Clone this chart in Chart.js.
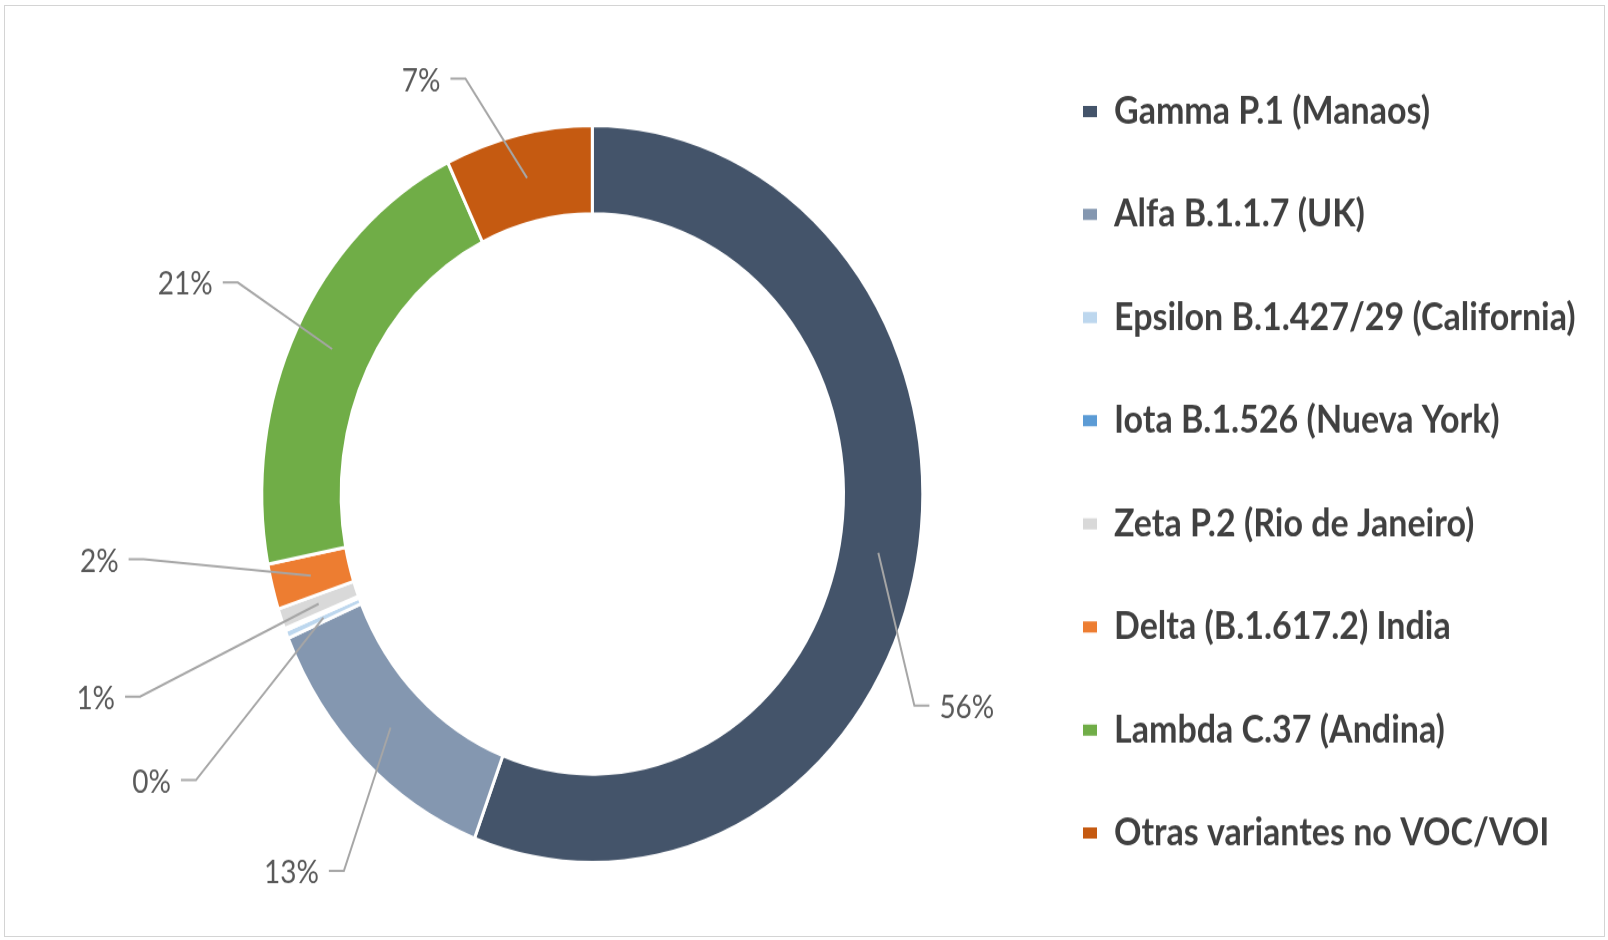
<!DOCTYPE html>
<html><head><meta charset="utf-8">
<script src="https://cdn.jsdelivr.net/npm/chart.js@4.4.1/dist/chart.umd.min.js"></script>
<style>
html,body{margin:0;padding:0;background:#fff;width:1608px;height:940px;overflow:hidden;}
#frame{position:absolute;left:4px;top:5px;width:1601px;height:932px;border:1px solid #d4d4d4;box-sizing:border-box;}
#wrap{position:absolute;left:0;top:0;width:1608px;height:843px;transform:scaleY(1.11507);transform-origin:0 0;}
</style></head><body>
<div id="frame"></div>
<div id="wrap"><canvas id="c"></canvas></div>
<script>
// ---- data ----
const categories = [
  'Gamma P.1 (Manaos)',
  'Alfa B.1.1.7 (UK)',
  'Epsilon B.1.427/29 (California)',
  'Iota B.1.526 (Nueva York)',
  'Zeta P.2 (Rio de Janeiro)',
  'Delta (B.1.617.2) India',
  'Lambda C.37 (Andina)',
  'Otras variantes no VOC/VOI'
];
const shares = [55.8, 12.8, 0.35, 0.1, 0.9, 2.0, 20.85, 7.2];

// ---- layout helpers ----
const legendFontPx = 34, itemStep = 92.46, boxW = 14;
const legendPad = itemStep - legendFontPx;
const markerX = 1083, chartCenterX = 592.3;
const legendLeft = markerX - legendPad;
const mctx = document.createElement('canvas').getContext('2d');
mctx.font = 'bold ' + legendFontPx + 'px Lato';
const maxTextW = Math.max(...categories.map(t => mctx.measureText(t).width));
const legendW = legendPad + boxW + legendFontPx / 2 + maxTextW + 10;
const padRight = Math.max(0, 1608 - legendLeft - legendW);
const padLeft = 2 * chartCenterX - legendLeft;

const sliceLabels = {
  id: 'sliceLabels',
  afterDatasetsDraw(chart, args, opts) {
    const meta = chart.getDatasetMeta(0);
    const data = chart.data.datasets[0].data;
    const total = data.reduce((s, v) => s + v, 0);
    const ctx = chart.ctx;
    ctx.save();
    ctx.font = opts.font;
    ctx.textAlign = 'center';
    ctx.textBaseline = 'middle';
    ctx.lineWidth = opts.lineWidth;
    ctx.strokeStyle = opts.lineColor;
    ctx.fillStyle = opts.color;
    meta.data.forEach((arc, i) => {
      const p = opts.placement[i];
      if (!p) return;
      const {x, y, startAngle, endAngle, innerRadius, outerRadius} =
        arc.getProps(['x', 'y', 'startAngle', 'endAngle', 'innerRadius', 'outerRadius'], true);
      const mid = (startAngle + endAngle) / 2;
      const rm = (innerRadius + outerRadius) / 2;
      const ax = x + Math.cos(mid) * rm, ay = y + Math.sin(mid) * rm;
      const th = p.a * Math.PI / 180;
      const lx = x + Math.sin(th) * outerRadius * p.r;
      const ly = y - Math.cos(th) * outerRadius * p.r;
      const text = Math.round(data[i] / total * 100) + '%';
      const w = ctx.measureText(text).width;
      const dir = ax > lx ? 1 : -1;
      const sx = lx + dir * (w / 2 + opts.gap);
      const ly2 = ly + opts.lineDy;
      ctx.beginPath();
      ctx.moveTo(sx, ly2);
      ctx.lineTo(sx + dir * opts.stub, ly2);
      ctx.lineTo(ax, ay);
      ctx.stroke();
      ctx.fillText(text, lx, ly);
    });
    ctx.restore();
  }
};

new Chart(document.getElementById('c'), {
  type: 'doughnut',
  data: {
    labels: categories,
    datasets: [{
      data: shares,
      backgroundColor: ['#44546A', '#8497B0', '#BDD7EE', '#5B9BD5', '#D9D9D9', '#ED7D31', '#70AD47', '#C55A11'],
      borderColor: '#ffffff',
      borderWidth: 3,
      hoverOffset: 0
    }]
  },
  options: {
    responsive: true,
    maintainAspectRatio: false,
    animation: false,
    radius: 330.5,
    cutout: '76%',
    rotation: 0,
    layout: { padding: { left: padLeft, right: padRight, top: 4, bottom: 0 } },
    plugins: {
      title: { display: true, text: '', font: { size: 10, lineHeight: 1.2 }, padding: { top: 27, bottom: 0 } },
      tooltip: { enabled: false },
      legend: {
        position: 'right',
        align: 'center',
        labels: {
          font: { family: 'Lato', size: legendFontPx, weight: 'bold' },
          color: '#404040',
          boxWidth: boxW,
          boxHeight: 10,
          padding: legendPad,
          generateLabels(chart) {
            const items = Chart.overrides.doughnut.plugins.legend.labels.generateLabels(chart);
            items.forEach(it => { it.lineWidth = 0; it.strokeStyle = it.fillStyle; });
            return items;
          }
        }
      },
      sliceLabels: {
        font: '28px Lato',
        color: '#595959',
        lineColor: '#A6A6A6',
        lineWidth: 2,
        gap: 10,
        stub: 15,
        lineDy: -2,
        placement: [
          { a: 117.1, r: 1.273 },
          { a: 221.5, r: 1.374 },
          { a: 239.6, r: 1.546 },
          null,
          { a: 249.7, r: 1.602 },
          { a: 263.0, r: 1.503 },
          { a: 294.75, r: 1.356 },
          { a: 335.2, r: 1.235 }
        ]
      }
    }
  },
  plugins: [sliceLabels]
});
</script>
</body></html>
